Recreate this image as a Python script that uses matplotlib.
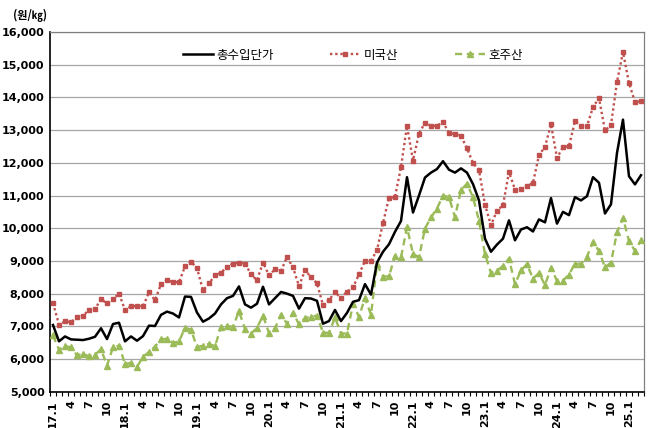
import numpy as np
import matplotlib
matplotlib.use("Agg")
import matplotlib.pyplot as plt
from matplotlib.ticker import FixedLocator, FuncFormatter

plt.rcParams['font.family'] = ['DejaVu Sans', 'Noto Sans CJK KR']

# monthly values, 17.1 .. 25.3 (won/kg)
total = [7040, 6540, 6690, 6600, 6590, 6580, 6620, 6680, 6940, 6610, 7070, 7110,
         6540, 6690, 6560, 6700, 7020, 7010, 7350, 7450, 7390, 7270, 7910, 7900,
         7420, 7140, 7240, 7390, 7670, 7860, 7930, 8220, 7670, 7570, 7690, 8210,
         7670, 7860, 8050, 8000, 7930, 7540, 7860, 7850, 7780, 7080, 7160, 7500,
         7160, 7410, 7750, 7800, 8290, 7970, 8950, 9280, 9510, 9890, 10220, 11560,
         10480, 11000, 11550, 11700, 11810, 12050, 11790, 11700, 11830, 11700, 11350, 10850,
         9680, 9280, 9500, 9680, 10240, 9630, 9960, 10030, 9900, 10270, 10180, 10920,
         10140, 10500, 10400, 10950, 10850, 10980, 11560, 11390, 10450, 10730, 12300, 13320,
         11590, 11340, 11620]

usa = [7710, 7050, 7150, 7130, 7270, 7320, 7510, 7530, 7830, 7700, 7830, 8000,
       7500, 7610, 7620, 7610, 8040, 7800, 8290, 8410, 8350, 8350, 8830, 8980,
       8780, 8100, 8310, 8560, 8640, 8820, 8920, 8940, 8920, 8590, 8410, 8950,
       8560, 8740, 8690, 9120, 8800, 8230, 8710, 8510, 8310, 7650, 7800, 8050,
       7860, 8060, 8190, 8590, 9000, 9000, 9330, 10160, 10930, 10950, 11870, 13130,
       12070, 12890, 13230, 13130, 13130, 13250, 12910, 12880, 12820, 12440, 11990, 11780,
       10720, 10090, 10540, 10700, 11720, 11180, 11210, 11280, 11390, 12230, 12490, 13180,
       12150, 12480, 12510, 13270, 13120, 13120, 13700, 13980, 12990, 13150, 14470, 15390,
       14440, 13860, 13880]

aus = [6720, 6280, 6390, 6360, 6110, 6160, 6080, 6130, 6300, 5800, 6360, 6410,
       5850, 5880, 5760, 6070, 6210, 6380, 6600, 6620, 6490, 6540, 6950, 6900,
       6360, 6410, 6460, 6390, 6980, 7000, 6990, 7460, 6920, 6780, 6950, 7330,
       6790, 6940, 7360, 7080, 7420, 7060, 7250, 7290, 7330, 6810, 6800, 7270,
       6780, 6780, 7680, 7290, 7870, 7350, 8900, 8520, 8530, 9150, 9110, 10030,
       9220, 9110, 9990, 10330, 10600, 11000, 10950, 10340, 11170, 11360, 10950, 10230,
       9210, 8630, 8700, 8850, 9070, 8290, 8710, 8900, 8460, 8630, 8260, 8790,
       8390, 8400, 8580, 8920, 8910, 9130, 9580, 9310, 8800, 8950, 9870, 10310,
       9610, 9310, 9630]

years = ['17', '18', '19', '20', '21', '22', '23', '24', '25']
labels = []
for y in years:
    for m in range(1, 13):
        labels.append(y + '.1' if m == 1 else str(m))
labels = labels[:len(total)]

x = np.arange(len(total))

fig = plt.figure(figsize=(6.52, 4.28), dpi=100)
ax = fig.add_axes([0.0767, 0.0848, 0.9110, 0.8404])

ax.plot(x, total, color='black', lw=1.8, label='총수입단가', zorder=4)
ax.plot(x, usa, color='#C0504D', lw=1.7, ls=(0, (1, 1.2)), marker='s', ms=2.4,
        label='미국산', zorder=3)
ax.plot(x, aus, color='#9BBB59', lw=1.7, ls=(0, (3, 2)), marker='^', ms=4,
        label='호주산', zorder=3)

ax.set_xlim(-0.5, len(total) - 0.5)
ax.set_ylim(5000, 16000)
ax.set_yticks(range(5000, 16001, 1000))
ax.yaxis.set_major_formatter(FuncFormatter(lambda v, p: f'{int(v):,}'))
ax.grid(axis='y', color='#a6a6a6', lw=0.9)
ax.set_axisbelow(True)

major = x[::3]
ax.xaxis.set_major_locator(FixedLocator(major))
ax.set_xticklabels(labels[::3], rotation=90, fontsize=8, fontweight='bold')
ax.xaxis.set_minor_locator(FixedLocator(np.arange(-0.5, len(total), 1)))
ax.tick_params(axis='x', which='major', length=0, pad=6)
ax.tick_params(axis='x', which='minor', length=3, width=0.8, direction='out')
ax.tick_params(axis='y', length=0, labelsize=8, pad=4)
for t in ax.get_yticklabels():
    t.set_fontweight('bold')

for s in ['top', 'right']:
    ax.spines[s].set_color('#808080')
    ax.spines[s].set_linewidth(0.9)
ax.spines['left'].set_linewidth(1.2)
ax.spines['bottom'].set_linewidth(1.2)

ax.legend(loc='upper center', bbox_to_anchor=(0.51, 0.985), ncol=3, frameon=False,
          fontsize=9, handlelength=2.4, columnspacing=4.5, handletextpad=0.3,
          numpoints=1)

fig.text(0.02, 0.965, '(원/㎏)', fontsize=8, fontweight='bold',
         family=['Noto Sans CJK KR', 'DejaVu Sans'], va='center')

fig.savefig('out.png', dpi=100)
